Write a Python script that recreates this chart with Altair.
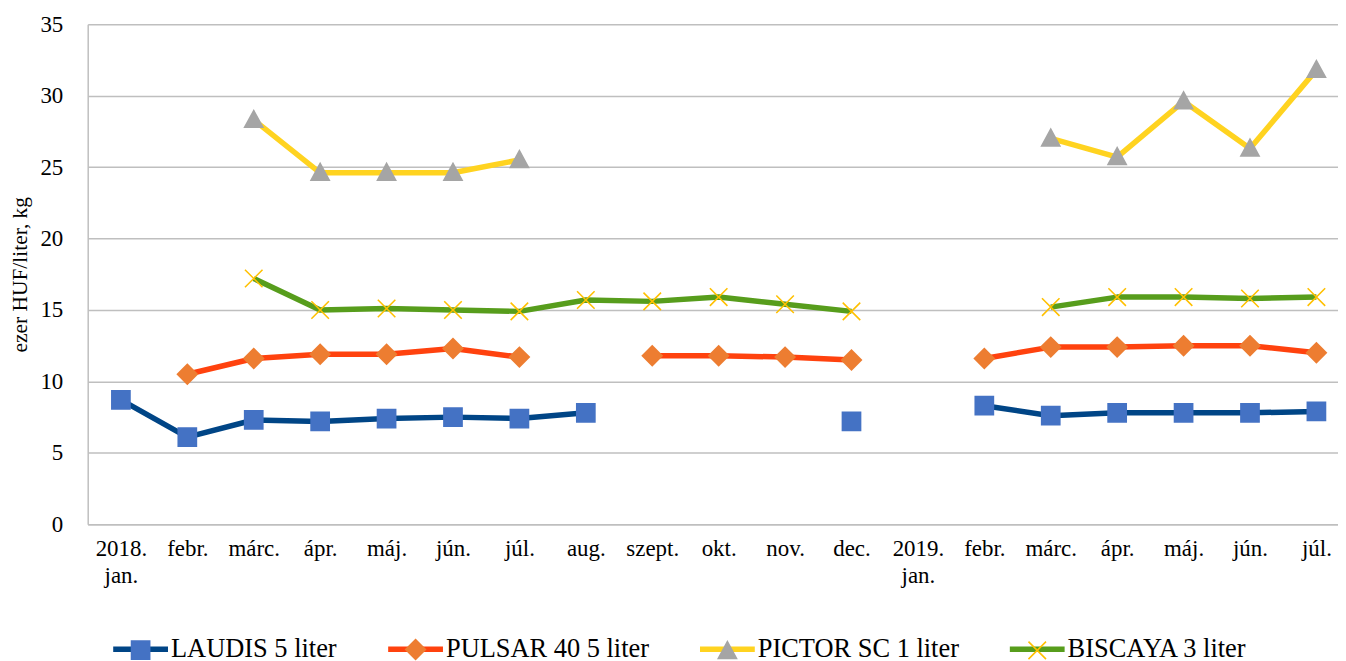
import json
import altair as alt
import pandas as pd

# ---- data ----
month_keys = ["2018-01", "2018-02", "2018-03", "2018-04", "2018-05", "2018-06", "2018-07",
              "2018-08", "2018-09", "2018-10", "2018-11", "2018-12",
              "2019-01", "2019-02", "2019-03", "2019-04", "2019-05", "2019-06", "2019-07"]
month_labels = ["2018.|jan.", "febr.", "márc.", "ápr.", "máj.", "jún.", "júl.",
                "aug.", "szept.", "okt.", "nov.", "dec.",
                "2019.|jan.", "febr.", "márc.", "ápr.", "máj.", "jún.", "júl."]

series_names = ["LAUDIS 5 liter", "PULSAR 40 5 liter", "PICTOR SC 1 liter", "BISCAYA 3 liter"]

laudis = [8.7, 6.1, 7.3, 7.2, 7.4, 7.5, 7.4, 7.8, None, None, None, 7.2,
          None, 8.3, 7.6, 7.8, 7.8, 7.8, 7.9]
pulsar = [None, 10.5, 11.6, 11.9, 11.9, 12.3, 11.7, None, 11.8, 11.8, 11.7, 11.5,
          None, 11.6, 12.4, 12.4, 12.5, 12.5, 12.0]
pictor = [None, None, 28.3, 24.6, 24.6, 24.6, 25.5, None, None, None, None, None,
          None, None, 27.0, 25.7, 29.6, 26.3, 31.8]
biscaya = [None, None, 17.2, 15.0, 15.1, 15.0, 14.9, 15.7, 15.6, 15.9, 15.4, 14.9,
           None, None, 15.2, 15.9, 15.9, 15.8, 15.9]

line_colors = ["#004586", "#FF420E", "#FFD320", "#579D1C"]
marker_colors = ["#4472C4", "#ED7D31", "#A5A5A5", "#FFC000"]

# marker glyphs (unit box -1..1); the zero-area "M-1,0L1,0" part gives the marker
# legend symbols the same extent as the line-legend strokes, so both legends align
span = "M-1,0L1,0"
sq = "M-0.36,-0.36L0.36,-0.36L0.36,0.36L-0.36,0.36Z" + span
dia = "M0,-0.4L0.4,0L0,0.4L-0.4,0Z" + span
tri = "M0,-0.4L0.38,0.3L-0.38,0.3Z" + span
xs = ("M-0.34,-0.30L-0.30,-0.34L0.34,0.30L0.30,0.34Z"
      "M0.30,-0.34L0.34,-0.30L-0.30,0.34L-0.34,0.30Z") + span
marker_paths = [sq, dia, tri, xs]

# marker legend uses prefixed keys so it stays a separate legend from the line legend
marker_keys = [f"{i}|{n}" for i, n in enumerate(series_names)]

rows = []
for name, mkey, vals in zip(series_names, marker_keys, [laudis, pulsar, pictor, biscaya]):
    for k, v in zip(month_keys, vals):
        rows.append({"month": k, "series": name, "series_m": mkey, "value": v})
df = pd.DataFrame(rows)

FONT = "Liberation Serif, Times New Roman, serif"

keys_js = json.dumps(month_keys)
labels_js = json.dumps(month_labels, ensure_ascii=False)
label_expr = f"split({labels_js}[indexof({keys_js}, datum.value)], '|')"

x_enc = alt.X(
    "month:N",
    scale=alt.Scale(type="point", domain=month_keys, padding=0.4125, align=0.606),
    axis=alt.Axis(title=None, labelExpr=label_expr, labelAngle=0, labelFontSize=23,
                  labelFont=FONT, labelColor="black", labelPadding=13, labelLineHeight=27,
                  ticks=False, grid=False, domainColor="#BFBFBF", domainWidth=1.5,
                  labelBaseline="top"),
)
y_enc = alt.Y(
    "value:Q",
    scale=alt.Scale(domain=[0, 35], nice=False, zero=True),
    axis=alt.Axis(title="ezer HUF/liter, kg", values=[0, 5, 10, 15, 20, 25, 30, 35],
                  labelFontSize=23, labelFont=FONT, labelColor="black", labelPadding=25,
                  ticks=False, grid=True, gridColor="#BFBFBF", gridWidth=1.5,
                  domainColor="#BFBFBF", domainWidth=1.5,
                  titleFont=FONT, titleFontSize=21.5, titleFontWeight="normal",
                  titleColor="black", titlePadding=8),
)

SYM = 3025
SW = 5.5
common_legend = dict(orient="none", legendX=22.6, legendY=597, direction="horizontal",
                     title=None, labelFont=FONT, labelFontSize=26.5, labelColor="black",
                     labelOffset=0, columnPadding=40, symbolSize=SYM, padding=0,
                     symbolStrokeWidth=SW, labelLimit=400)

lines = alt.Chart(df).mark_line(
    strokeWidth=SW, strokeJoin="round", invalid="break-paths-filter-domains"
).encode(
    x=x_enc,
    y=y_enc,
    color=alt.Color("series:N",
                    scale=alt.Scale(domain=series_names, range=line_colors),
                    legend=alt.Legend(symbolType="stroke", **common_legend)),
)

marker_legend = alt.Legend(labelOpacity=0, symbolStrokeColor="transparent", symbolOpacity=1,
                           labelExpr="split(datum.label, '|')[1]", **common_legend)

points = alt.Chart(df).transform_filter("isValid(datum.value)").mark_point(
    filled=True, size=SYM, opacity=1, strokeWidth=SW, stroke="transparent"
).encode(
    x=x_enc,
    y=y_enc,
    fill=alt.Fill("series_m:N",
                  scale=alt.Scale(domain=marker_keys, range=marker_colors),
                  legend=marker_legend),
    shape=alt.Shape("series_m:N",
                    scale=alt.Scale(domain=marker_keys, range=marker_paths),
                    legend=marker_legend),
)

chart = alt.layer(lines, points).properties(
    width=1255, height=502,
    autosize=alt.AutoSizeParams(type="none"),
    padding={"left": 80, "top": 15, "right": 0, "bottom": 136},
).configure(font=FONT, background="white").configure_view(stroke=None)

chart.save("out.html", embed_options={"renderer": "svg", "actions": False})
